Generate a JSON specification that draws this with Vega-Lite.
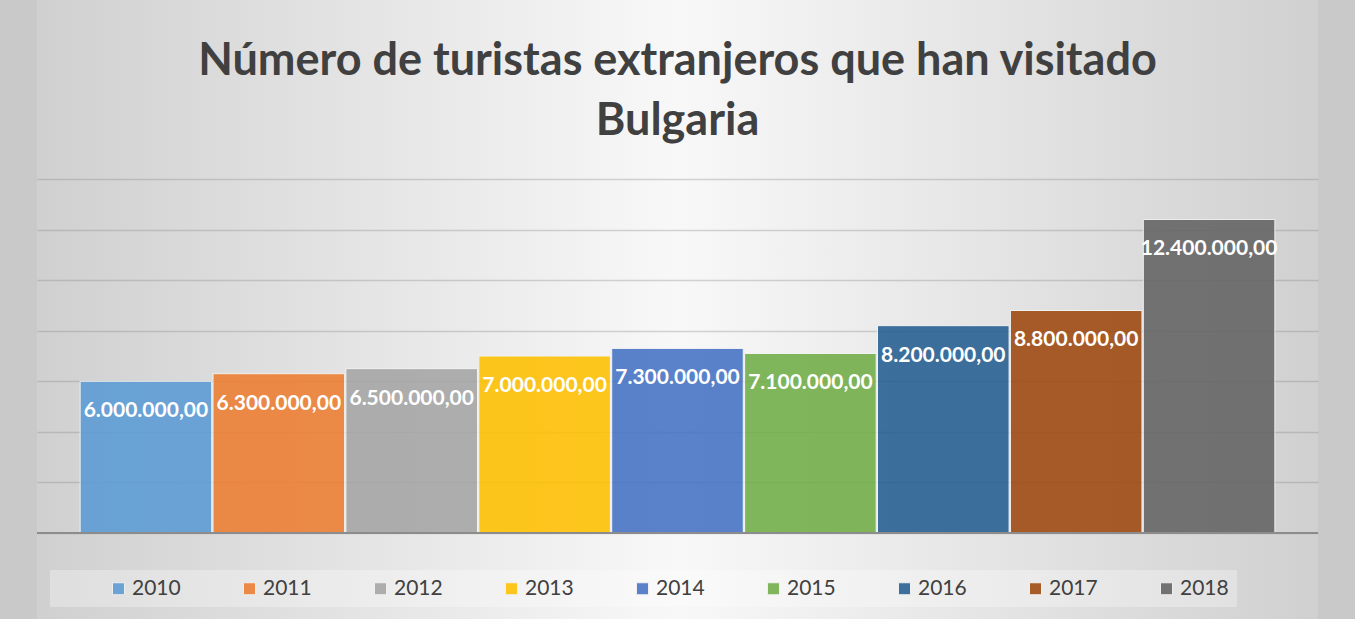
{
  "$schema": "https://vega.github.io/schema/vega-lite/v6.json",
  "width": 1281,
  "height": 619,
  "autosize": {"type": "none"},
  "padding": {"left": 37, "right": 37, "top": 0, "bottom": 0},
  "background": "#c9c9c9",
  "title": {
    "text": ["Número de turistas extranjeros que han visitado", "Bulgaria"],
    "font": "Lato",
    "fontSize": 45,
    "fontWeight": "bold",
    "color": "#404040",
    "lineHeight": 60,
    "anchor": "middle",
    "frame": "group",
    "baseline": "top",
    "offset": -144
  },
  "data": {
    "values": [
      {"year": "2010", "turistas": 6000000},
      {"year": "2011", "turistas": 6300000},
      {"year": "2012", "turistas": 6500000},
      {"year": "2013", "turistas": 7000000},
      {"year": "2014", "turistas": 7300000},
      {"year": "2015", "turistas": 7100000},
      {"year": "2016", "turistas": 8200000},
      {"year": "2017", "turistas": 8800000},
      {"year": "2018", "turistas": 12400000}
    ]
  },
  "layer": [
    {
      "mark": {"type": "bar", "opacity": 0.88, "stroke": "#f4f4f4", "strokeWidth": 1},
      "encoding": {
        "x": {"field": "year", "type": "nominal", "scale": {"paddingInner": 0.01, "paddingOuter": 0.3245}, "axis": null},
        "y": {
          "field": "turistas", "type": "quantitative",
          "scale": {"domain": [-3401000, 21079000], "nice": false, "zero": false},
          "axis": {
            "values": [0, 2000000, 4000000, 6000000, 8000000, 10000000, 12000000, 14000000],
            "grid": true, "labels": false, "ticks": false, "domain": false, "title": null,
            "gridColor": "#8a8a8a", "gridOpacity": 0.35, "gridWidth": 1.5
          }
        },
        "color": {
          "field": "year", "type": "nominal",
          "scale": {"range": ["#5B9BD5", "#ED7D31", "#A5A5A5", "#FFC000", "#4472C4", "#70AD47", "#255E91", "#9E480E", "#636363"]},
          "legend": {
            "orient": "none", "legendX": 13, "legendY": 570,
            "direction": "horizontal", "columns": 9,
            "title": " ", "titleOrient": "left", "titlePadding": 50,
            "symbolType": "square", "symbolSize": 144, "symbolStrokeWidth": 1, "symbolStrokeColor": "#f0f0f0",
            "labelFont": "Lato", "labelFontSize": 21, "labelColor": "#404040", "labelOffset": 3,
            "labelExpr": "datum.label == '2018' ? datum.label + '\u2003\u2003' : datum.label",
            "columnPadding": 58, "padding": 8, "fillColor": "rgba(255,255,255,0.3)"
          }
        }
      }
    },
    {
      "mark": {"type": "text", "font": "Lato", "fontWeight": "bold", "fontSize": 21, "color": "#ffffff", "align": "center", "baseline": "alphabetic", "dy": 36},
      "encoding": {
        "x": {"field": "year", "type": "nominal", "scale": {"paddingInner": 0.01, "paddingOuter": 0.3245}},
        "y": {"field": "turistas", "type": "quantitative", "scale": {"domain": [-3401000, 21079000], "nice": false, "zero": false}},
        "text": {"field": "turistas", "type": "quantitative", "format": ",.2f"}
      }
    },
    {
      "mark": {"type": "rule", "color": "#8c8c8c", "strokeWidth": 1.5},
      "encoding": {
        "y": {"datum": 0, "scale": {"domain": [-3401000, 21079000], "nice": false, "zero": false}}
      }
    }
  ],
  "config": {
    "locale": {"number": {"decimal": ",", "thousands": ".", "grouping": [3], "currency": ["", " €"]}},
    "view": {
      "stroke": null,
      "fill": {
        "gradient": "linear", "x1": 0, "y1": 0, "x2": 1, "y2": 0,
        "stops": [
          {"offset": 0, "color": "#d0d0d0"},
          {"offset": 0.5, "color": "#f8f8f8"},
          {"offset": 1, "color": "#d0d0d0"}
        ]
      }
    }
  }
}
